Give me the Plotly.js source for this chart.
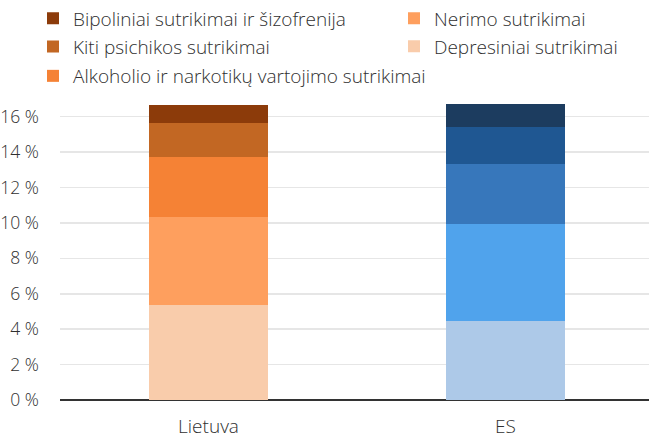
<!DOCTYPE html>
<html>
<head>
<meta charset="utf-8">
<script src="https://cdn.plot.ly/plotly-3.0.1.min.js"></script>
<style>html,body{margin:0;padding:0;background:#fff;}#chart{width:649px;height:438px;}</style>
</head>
<body>
<div id="chart"></div>
<script>
const categories = ["Lietuva", "ES"];
const seriesNames = [
  "Depresiniai sutrikimai",
  "Nerimo sutrikimai",
  "Alkoholio ir narkotikų vartojimo sutrikimai",
  "Kiti psichikos sutrikimai",
  "Bipoliniai sutrikimai ir šizofrenija"
];
// values in %, bottom to top
const lietuvaValues = [5.38, 4.98, 3.35, 1.96, 1.01];
const esValues = [4.48, 5.48, 3.39, 2.09, 1.30];
const orangeColors = ["#F9CCAB", "#FE9F5E", "#F58235", "#C26723", "#8C3B0A"];
const blueColors = ["#ADC9E8", "#50A3EC", "#3777BB", "#1F5792", "#1C3C5F"];
const yTicks = [0, 2, 4, 6, 8, 10, 12, 14, 16];

const FONT = "'Open Sans', 'Noto Sans', sans-serif";
const TXT = "#2f2f2f";
const WEIGHT = 300;
const W = 649, H = 438;

// legend slot per series: [symbol-center x px, row-center y px]
const legendPos = [
  [414, 46.5],  // Depresiniai
  [414, 18.3],  // Nerimo
  [53, 76],     // Alkoholio
  [53, 46.7],   // Kiti
  [53, 18.3]    // Bipoliniai
];

const traces = [];
const layout = {
  width: W, height: H,
  margin: {l: 60, r: 0, t: 99, b: 38, autoexpand: false},
  paper_bgcolor: "#ffffff",
  plot_bgcolor: "#ffffff",
  barmode: "stack",
  bargap: 0.6,
  font: {family: FONT, size: 17, color: TXT, weight: WEIGHT},
  xaxis: {
    type: "category",
    range: [-0.5, 1.483],
    showgrid: false,
    showline: false,
    ticks: "",
    ticklabelstandoff: 13,
    tickfont: {family: FONT, size: 19, color: TXT, weight: WEIGHT},
    fixedrange: true
  },
  yaxis: {
    range: [0, 17],
    tickvals: yTicks,
    ticktext: yTicks.map(v => v + " %"),
    showgrid: true,
    gridcolor: "#E6E6E6",
    gridwidth: 1.5,
    zeroline: true,
    zerolinecolor: "#333333",
    zerolinewidth: 1.5,
    ticks: "",
    ticklabelstandoff: 20,
    tickfont: {family: FONT, size: 17.5, color: TXT, weight: WEIGHT},
    fixedrange: true
  },
  showlegend: true
};

seriesNames.forEach((name, i) => {
  const legId = i === 0 ? "legend" : "legend" + (i + 1);
  traces.push({
    type: "bar",
    name: name,
    x: [categories[0]],
    y: [lietuvaValues[i]],
    marker: {color: orangeColors[i], line: {width: 0}},
    legend: legId,
    hoverinfo: "name+y"
  });
  traces.push({
    type: "bar",
    name: name + " (ES)",
    x: [categories[1]],
    y: [esValues[i]],
    marker: {color: blueColors[i], line: {width: 0}},
    showlegend: false,
    hoverinfo: "name+y"
  });
  layout[legId] = {
    xref: "container", yref: "container",
    x: (legendPos[i][0] - 20) / W,
    y: 1 - legendPos[i][1] / H,
    xanchor: "left", yanchor: "middle",
    bgcolor: "rgba(0,0,0,0)",
    borderwidth: 0,
    font: {family: FONT, size: 19, color: TXT, weight: WEIGHT},
    itemclick: false, itemdoubleclick: false
  };
});

Plotly.newPlot("chart", traces, layout, {displayModeBar: false, staticPlot: true});
</script>
</body>
</html>
